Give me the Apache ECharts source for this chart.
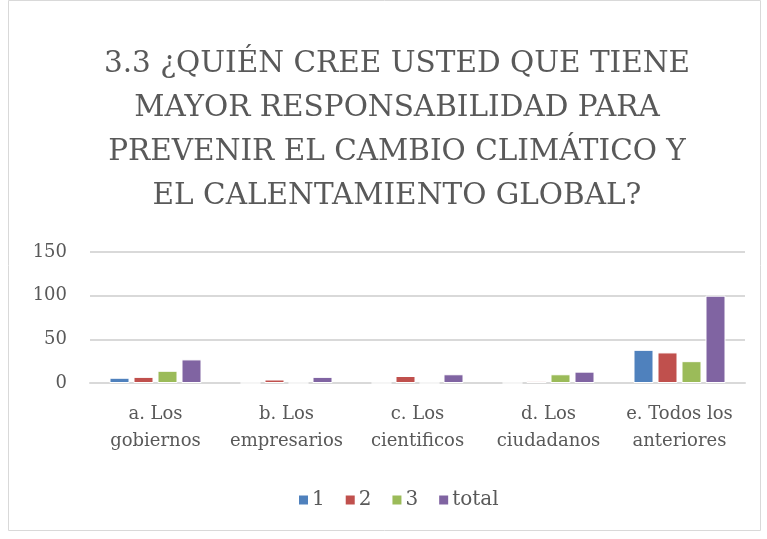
<!DOCTYPE html>
<html><head><meta charset="utf-8">
<script src="https://cdn.jsdelivr.net/npm/echarts@6/dist/echarts.min.js"></script>
<style>html,body{margin:0;padding:0;background:#fff}#c{width:767px;height:539px}</style>
</head><body><div id="c"></div>
<script>
var titleText = '3.3 ¿QUIÉN CREE USTED QUE TIENE\nMAYOR RESPONSABILIDAD PARA\nPREVENIR EL CAMBIO CLIMÁTICO Y\nEL CALENTAMIENTO GLOBAL?';
var categories = ['a. Los\ngobiernos', 'b. Los\nempresarios', 'c. Los\ncientificos', 'd. Los\nciudadanos', 'e. Todos los\nanteriores'];
var seriesNames = ['1', '2', '3', 'total'];
var s1 = [6, 0, 0, 0, 38];
var s2 = [7, 4, 8, 2, 35];
var s3 = [14, 0, 0, 10, 25];
var sTotal = [27, 7, 10, 13, 100];
var yTicks = [0, 50, 100, 150];
var colors = ['#4F81BD', '#C0504D', '#9BBB59', '#8064A2'];
var serif = '"DejaVu Serif", serif';
var chart = echarts.init(document.getElementById('c'));
var data = [s1, s2, s3, sTotal];
chart.setOption({
  animation: false,
  color: colors,
  title: {
    text: titleText, left: 392, textAlign: 'center', top: 37,
    textStyle: {fontFamily: serif, fontSize: 29.5, fontWeight: 'normal', color: '#595959', lineHeight: 44}
  },
  graphic: [{type: 'rect', shape: {x: 8.5, y: 0.5, width: 752, height: 530}, style: {fill: 'none', stroke: '#d9d9d9', lineWidth: 1}}],
  legend: {
    bottom: 24, left: 292, itemWidth: 11, itemHeight: 11, itemGap: 19,
    icon: 'rect',
    textStyle: {fontFamily: serif, fontSize: 20, color: '#595959', padding: [0, 0, 0, -2]},
    data: seriesNames
  },
  grid: {left: 90, right: 22, top: 252, bottom: 156},
  xAxis: {
    type: 'category', data: categories,
    axisLine: {lineStyle: {color: '#d9d9d9', width: 2}},
    axisTick: {show: false},
    axisLabel: {fontFamily: serif, fontSize: 18, color: '#595959', lineHeight: 27, margin: 18, interval: 0}
  },
  yAxis: {
    type: 'value', min: yTicks[0], max: yTicks[yTicks.length - 1], interval: 50,
    axisLine: {show: false}, axisTick: {show: false},
    splitLine: {lineStyle: {color: '#d9d9d9', width: 2}},
    axisLabel: {fontFamily: serif, fontSize: 18, color: '#595959', margin: 23}
  },
  series: seriesNames.map(function (n, i) {
    return {name: n, type: 'bar', data: data[i], barWidth: 20, barGap: '20%',
      itemStyle: {color: colors[i], borderColor: '#fff', borderWidth: 1}};
  })
});
</script></body></html>
